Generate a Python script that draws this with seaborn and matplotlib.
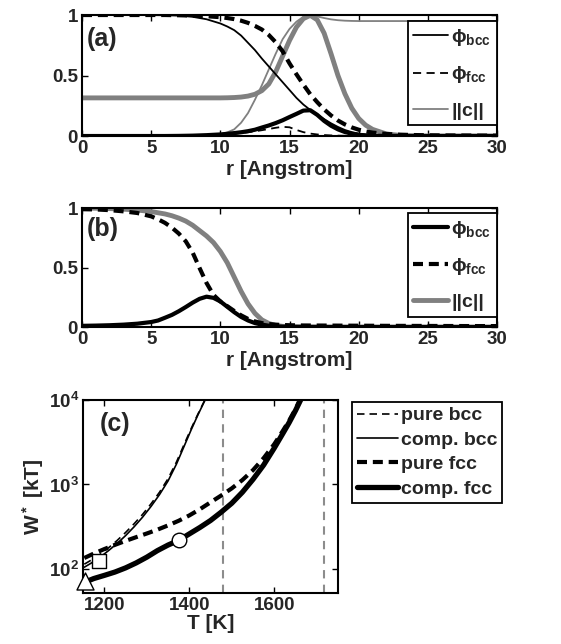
import matplotlib
matplotlib.use('Agg')
import matplotlib.pyplot as plt
import seaborn as sns
from matplotlib.ticker import FixedLocator, NullLocator

# ---- panel (a): two profiles, thin lines = case 1, thick lines = case 2
r_a = [0, 2, 4, 6, 7, 8, 9, 10, 10.5, 11, 11.5, 12, 12.5, 13, 13.5, 14, 14.5,
       15, 15.5, 16, 16.5, 17, 17.5, 18, 18.5, 19, 19.5, 20, 20.5, 21, 22, 23,
       24, 25, 26, 28, 30]
bcc_a1 = [1.0, 1.0, 1.0, 0.998, 0.995, 0.985, 0.965, 0.93, 0.905, 0.875, 0.83,
          0.77, 0.71, 0.64, 0.575, 0.51, 0.445, 0.38, 0.315, 0.26, 0.215, 0.178,
          0.14, 0.105, 0.075, 0.05, 0.032, 0.02, 0.012, 0.007, 0.002, 0.001,
          0, 0, 0, 0, 0]
fcc_a1 = [0, 0, 0, 0, 0, 0.002, 0.005, 0.01, 0.014, 0.019, 0.025, 0.031, 0.039,
          0.048, 0.058, 0.068, 0.076, 0.072, 0.05, 0.032, 0.02, 0.013, 0.008,
          0.005, 0.003, 0.002, 0.001, 0.001, 0, 0, 0, 0, 0, 0, 0, 0, 0]
c_a1 = [0, 0, 0, 0, 0, 0, 0.005, 0.015, 0.03, 0.055, 0.11, 0.19, 0.3, 0.42,
        0.55, 0.68, 0.8, 0.885, 0.945, 0.985, 0.997, 0.988, 0.975, 0.964,
        0.957, 0.953, 0.951, 0.95, 0.95, 0.95, 0.95, 0.95, 0.95, 0.95, 0.95,
        0.95, 0.95]
bcc_a2 = [0, 0, 0, 0, 0.001, 0.003, 0.007, 0.013, 0.018, 0.024, 0.031, 0.04,
          0.052, 0.07, 0.087, 0.107, 0.13, 0.157, 0.183, 0.21, 0.213, 0.175,
          0.125, 0.085, 0.055, 0.033, 0.019, 0.01, 0.005, 0.002, 0.001, 0, 0,
          0, 0, 0, 0]
fcc_a2 = [1.0, 1.0, 1.0, 1.0, 0.998, 0.995, 0.99, 0.982, 0.975, 0.966, 0.953,
          0.935, 0.91, 0.88, 0.835, 0.775, 0.7, 0.6, 0.51, 0.425, 0.345, 0.28,
          0.22, 0.17, 0.128, 0.096, 0.071, 0.052, 0.038, 0.028, 0.017, 0.011,
          0.008, 0.006, 0.005, 0.004, 0.003]
c_a2 = [0.315, 0.315, 0.315, 0.315, 0.315, 0.315, 0.315, 0.315, 0.316, 0.318,
        0.322, 0.33, 0.345, 0.375, 0.43, 0.53, 0.66, 0.79, 0.9, 0.97, 0.997,
        0.96, 0.85, 0.68, 0.5, 0.35, 0.23, 0.145, 0.09, 0.055, 0.017, 0.005,
        0.002, 0, 0, 0, 0]

# ---- panel (b)
r_b = [0, 1, 2, 3, 4, 5, 5.5, 6, 6.5, 7, 7.5, 8, 8.5, 9, 9.5, 10, 10.5, 11,
       11.5, 12, 12.5, 13, 13.5, 14, 14.5, 15, 16, 18, 20, 22, 25, 28, 30]
bcc_b = [0.01, 0.012, 0.015, 0.02, 0.028, 0.042, 0.055, 0.078, 0.102, 0.133,
         0.168, 0.205, 0.237, 0.255, 0.245, 0.215, 0.17, 0.125, 0.085, 0.055,
         0.033, 0.02, 0.011, 0.006, 0.003, 0.002, 0.001, 0, 0, 0, 0, 0, 0]
fcc_b = [0.99, 0.988, 0.982, 0.972, 0.958, 0.93, 0.905, 0.875, 0.835, 0.785,
         0.72, 0.625, 0.495, 0.37, 0.27, 0.215, 0.175, 0.135, 0.098, 0.068,
         0.047, 0.033, 0.025, 0.02, 0.017, 0.015, 0.013, 0.012, 0.011, 0.01,
         0.009, 0.008, 0.008]
c_b = [1.0, 0.998, 0.995, 0.99, 0.983, 0.97, 0.96, 0.95, 0.935, 0.915, 0.89,
       0.855, 0.81, 0.765, 0.71, 0.635, 0.54, 0.42, 0.3, 0.195, 0.115, 0.06,
       0.03, 0.013, 0.006, 0.003, 0.001, 0, 0, 0, 0, 0, 0]

# ---- panel (c): nucleation barrier vs temperature
T_bcc = [1153, 1170, 1190, 1210, 1230, 1250, 1270, 1290, 1310, 1330, 1350,
         1370, 1390, 1405, 1420, 1430, 1437]
W_pure_bcc = [114, 128, 149, 178, 217, 270, 342, 442, 590, 810, 1170, 1850,
              3150, 4650, 6750, 8550, 10000]
W_comp_bcc = [105, 118, 138, 165, 200, 248, 315, 410, 550, 760, 1100, 1750,
              3000, 4500, 6600, 8400, 10000]
T_pure_fcc = [1153, 1175, 1200, 1225, 1250, 1275, 1300, 1325, 1350, 1375,
              1400, 1425, 1450, 1475, 1500, 1525, 1550, 1575, 1600, 1620,
              1635, 1650, 1660]
W_pure_fcc = [135, 152, 172, 193, 215, 238, 263, 292, 328, 372, 430, 510, 615,
              740, 900, 1130, 1480, 2050, 3000, 4300, 5700, 7800, 10000]
T_comp_fcc = [1155, 1175, 1200, 1225, 1250, 1275, 1300, 1325, 1350, 1375,
              1400, 1425, 1450, 1475, 1500, 1525, 1550, 1575, 1600, 1620,
              1635, 1650, 1662]
W_comp_fcc = [70, 77, 84, 92, 103, 118, 138, 165, 192, 218, 260, 310, 375,
              470, 600, 810, 1150, 1700, 2700, 4000, 5400, 7500, 10000]
T_vlines = [1480, 1717]
# special points: triangle, square, circle
T_marks = [1154, 1187, 1375]
W_marks = [72, 126, 218]
mark_shapes = ['^', 's', 'o']
mark_sizes = [150, 110, 110]

sns.set_style('ticks')
plt.rcParams['font.family'] = ['Liberation Sans', 'DejaVu Sans']
plt.rcParams['font.weight'] = 'bold'
plt.rcParams['axes.labelweight'] = 'bold'
plt.rcParams['mathtext.fontset'] = 'custom'
plt.rcParams['mathtext.rm'] = 'Liberation Sans:bold'
plt.rcParams['mathtext.bf'] = 'Liberation Sans:bold'
plt.rcParams['mathtext.it'] = 'Liberation Sans:bold:italic'
plt.rcParams['mathtext.sf'] = 'Liberation Sans:bold'
plt.rcParams['xtick.direction'] = 'in'
plt.rcParams['ytick.direction'] = 'in'
plt.rcParams['xtick.top'] = True
plt.rcParams['ytick.right'] = True

GRAY = '#808080'
THICK_DASH = (0, (2.4, 1.4))
THIN_DASH = (0, (4.5, 3.0))
TICK_FS = 13.5
LABEL_FS = 15
LEG_FS = 14


def line(ax, x, y, color, lw, ls='-'):
    sns.lineplot(x=x, y=y, ax=ax, color=color, linewidth=lw, linestyle=ls,
                 sort=False, errorbar=None)
    return ax.lines[-1]


def style_axes(ax):
    for s in ax.spines.values():
        s.set_linewidth(1.5)
        s.set_color('black')
        s.set_visible(True)
    ax.tick_params(which='both', labelsize=TICK_FS, width=1.0, length=4,
                   color='black', pad=3)
    for t in ax.get_xticklabels() + ax.get_yticklabels():
        t.set_fontweight('bold')


def leg(ax, handles, labels, **kw):
    lg = ax.legend(handles=handles, labels=labels, fontsize=LEG_FS,
                   fancybox=False, framealpha=1, edgecolor='black', **kw)
    lg.get_frame().set_linewidth(1.3)
    return lg


fig = plt.figure(figsize=(5.61, 6.44), dpi=100)
ax_a = fig.add_axes([0.1462, 0.7888, 0.7398, 0.1879])
ax_b = fig.add_axes([0.1462, 0.4922, 0.7398, 0.1848])
ax_c = fig.add_axes([0.148, 0.0792, 0.4545, 0.2997])

phi_labels = [r'$\mathrm{\phi}_{\mathbf{bcc}}$', r'$\mathrm{\phi}_{\mathbf{fcc}}$',
              '||c||']

# (a)
line(ax_a, r_a, c_a2, GRAY, 3.5)
h3 = line(ax_a, r_a, c_a1, GRAY, 1.3)
line(ax_a, r_a, bcc_a2, 'black', 3.0)
line(ax_a, r_a, fcc_a2, 'black', 3.0, THICK_DASH)
h1 = line(ax_a, r_a, bcc_a1, 'black', 1.3)
h2 = line(ax_a, r_a, fcc_a1, 'black', 1.3, THIN_DASH)
ax_a.set_xlim(0, 30)
ax_a.set_ylim(0, 1)
ax_a.set_xticks([0, 5, 10, 15, 20, 25, 30])
ax_a.set_yticks([0, 0.5, 1])
ax_a.set_yticklabels(['0', '0.5', '1'])
ax_a.set_xlabel('r [Angstrom]', fontsize=LABEL_FS, labelpad=2)
ax_a.set_ylabel('')
style_axes(ax_a)
ax_a.text(0.012, 0.80, '(a)', transform=ax_a.transAxes, fontsize=18,
          fontweight='bold', va='center', ha='left')
leg(ax_a, [h1, h2, h3], phi_labels, loc='upper right',
    bbox_to_anchor=(1.0, 0.95), borderaxespad=0, handlelength=1.8,
    handletextpad=0.15, labelspacing=0.85, borderpad=0.3)

# (b)
g3 = line(ax_b, r_b, c_b, GRAY, 3.5)
g1 = line(ax_b, r_b, bcc_b, 'black', 3.0)
g2 = line(ax_b, r_b, fcc_b, 'black', 3.0, THICK_DASH)
ax_b.set_xlim(0, 30)
ax_b.set_ylim(0, 1)
ax_b.set_xticks([0, 5, 10, 15, 20, 25, 30])
ax_b.set_yticks([0, 0.5, 1])
ax_b.set_yticklabels(['0', '0.5', '1'])
ax_b.set_xlabel('r [Angstrom]', fontsize=LABEL_FS, labelpad=2)
ax_b.set_ylabel('')
style_axes(ax_b)
ax_b.text(0.012, 0.82, '(b)', transform=ax_b.transAxes, fontsize=18,
          fontweight='bold', va='center', ha='left')
leg(ax_b, [g1, g2, g3], phi_labels, loc='upper right',
    bbox_to_anchor=(1.0, 0.96), borderaxespad=0, handlelength=1.8,
    handletextpad=0.15, labelspacing=0.85, borderpad=0.3)

# (c)
for tv in T_vlines:
    ax_c.axvline(tv, color='#8c8c8c', lw=1.5, linestyle=(0, (4, 3)))
k1 = line(ax_c, T_bcc, W_pure_bcc, 'black', 1.2, THIN_DASH)
k2 = line(ax_c, T_bcc, W_comp_bcc, 'black', 1.2)
k3 = line(ax_c, T_pure_fcc, W_pure_fcc, 'black', 3.0, THICK_DASH)
k4 = line(ax_c, T_comp_fcc, W_comp_fcc, 'black', 3.8)
for tx, wy, mk, sz in zip(T_marks, W_marks, mark_shapes, mark_sizes):
    sns.scatterplot(x=[tx], y=[wy], ax=ax_c, marker=mk, s=sz, color='white',
                    edgecolor='black', linewidth=1.0, zorder=5, clip_on=False)
ax_c.set_yscale('log')
ax_c.set_xlim(1150, 1750)
ax_c.set_ylim(52, 1e4)
ax_c.xaxis.set_major_locator(FixedLocator([1200, 1400, 1600]))
ax_c.yaxis.set_major_locator(FixedLocator([1e2, 1e3, 1e4]))
ax_c.yaxis.set_minor_locator(NullLocator())
ax_c.set_xlabel('T [K]', fontsize=LABEL_FS, labelpad=0)
ax_c.set_ylabel(r'W$^*$ [kT]', fontsize=LABEL_FS, labelpad=2)
style_axes(ax_c)
ax_c.text(0.065, 0.875, '(c)', transform=ax_c.transAxes, fontsize=18,
          fontweight='bold', va='center', ha='left')
leg(ax_c, [k1, k2, k3, k4], ['pure bcc', 'comp. bcc', 'pure fcc', 'comp. fcc'],
    loc='upper left', bbox_to_anchor=(1.055, 0.99), borderaxespad=0,
    handlelength=2.1, handletextpad=0.15, labelspacing=0.35, borderpad=0.25)

fig.savefig('out.png', dpi=100)
